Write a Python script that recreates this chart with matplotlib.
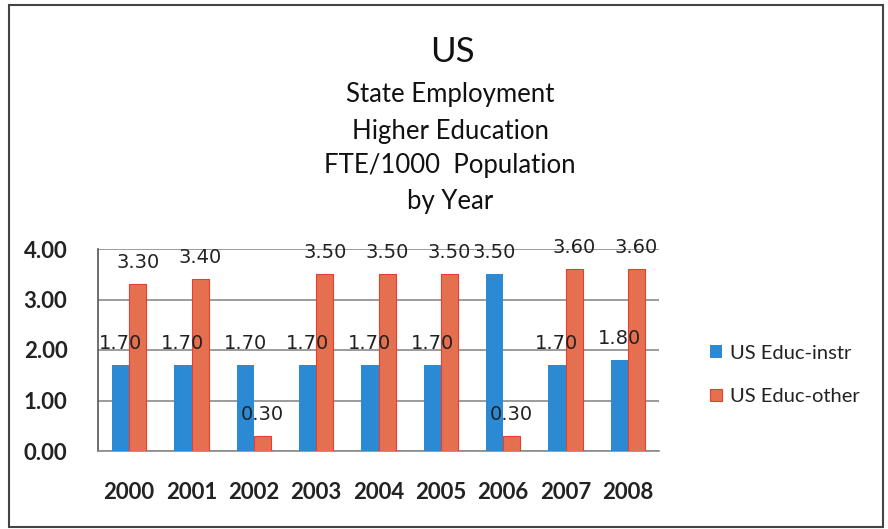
import matplotlib
matplotlib.use("Agg")
import matplotlib.pyplot as plt
import numpy as np
from matplotlib.patches import Rectangle

years = ["2000", "2001", "2002", "2003", "2004", "2005", "2006", "2007", "2008"]
instr = [1.70, 1.70, 1.70, 1.70, 1.70, 1.70, 3.50, 1.70, 1.80]
other = [3.30, 3.40, 0.30, 3.50, 3.50, 3.50, 0.30, 3.60, 3.60]
yticks = [0.0, 1.0, 2.0, 3.0, 4.0]

W, H = 888, 529
fig = plt.figure(figsize=(W / 100, H / 100), dpi=100)
plt.rcParams['font.family'] = ['Lato', 'DejaVu Sans']

# axes in pixel coords: left 98, right 659, top 249, bottom 451
ax = fig.add_axes([98 / W, 1 - 451 / H, (659 - 98) / W, (451 - 249) / H])

blue = '#2C8AD4'
orange = '#E4704F'
x = np.arange(len(years))
bw = 0.275
b1 = ax.bar(x - bw / 2, instr, bw, color=blue, label='US Educ-instr', zorder=3)
b2 = ax.bar(x + bw / 2, other, bw, color=orange, edgecolor='#EE3B30', linewidth=0.8,
            label='US Educ-other', zorder=3)

lab_font = dict(fontsize=14, color='#222222', family='DejaVu Sans', ha='center', va='bottom', zorder=5)
for xi, v in zip(x, instr):
    ax.text(xi - bw / 2, v + 0.24, f"{v:.2f}", **lab_font)
for xi, v in zip(x, other):
    ax.text(xi + bw / 2, v + 0.24, f"{v:.2f}", **lab_font)

ax.set_xlim(-0.5, len(years) - 0.5)
ax.set_ylim(0, 4.0)
ax.set_yticks(yticks)
ax.set_yticklabels([f"{t:.2f}" for t in yticks], fontsize=16, fontweight='bold', color='#222222')
ax.set_xticks(x)
ax.set_xticklabels(years, fontsize=16, fontweight='bold', color='#222222')
ax.tick_params(axis='y', length=0, pad=22)
ax.tick_params(axis='x', length=0, pad=22)
ax.yaxis.grid(True, color='#8a8a8a', linewidth=1.2, zorder=0)
ax.set_axisbelow(True)
for s in ['top', 'right']:
    ax.spines[s].set_visible(False)
ax.spines['left'].set_color('#555555')
ax.spines['left'].set_linewidth(1.2)
ax.spines['bottom'].set_color('#8a8a8a')
ax.spines['bottom'].set_linewidth(1.2)

leg = fig.legend(handles=[b1, b2], loc='center left', bbox_to_anchor=(692 / W, 1 - 375 / H),
                 frameon=False, fontsize=14.5, handlelength=0.6, handleheight=0.6,
                 handletextpad=0.4, labelspacing=1.3)
for t in leg.get_texts():
    t.set_color('#222222')

fig.text(452 / W, 1 - 52 / H, "US", fontsize=25, ha='center', va='center', color='#111111')
subs = ["State Employment", "Higher Education", "FTE/1000  Population", "by Year"]
ys = [95, 131, 166, 201]
for s, yy in zip(subs, ys):
    fig.text(450 / W, 1 - yy / H, s, fontsize=18.5, ha='center', va='center', color='#111111')

fig.patches.append(Rectangle((9 / W, 1 - 527 / H), (883 - 9) / W, (527 - 5) / H,
                             transform=fig.transFigure, fill=False, edgecolor='#444444',
                             linewidth=1.5))

fig.savefig("out.png", dpi=100, facecolor='white')
